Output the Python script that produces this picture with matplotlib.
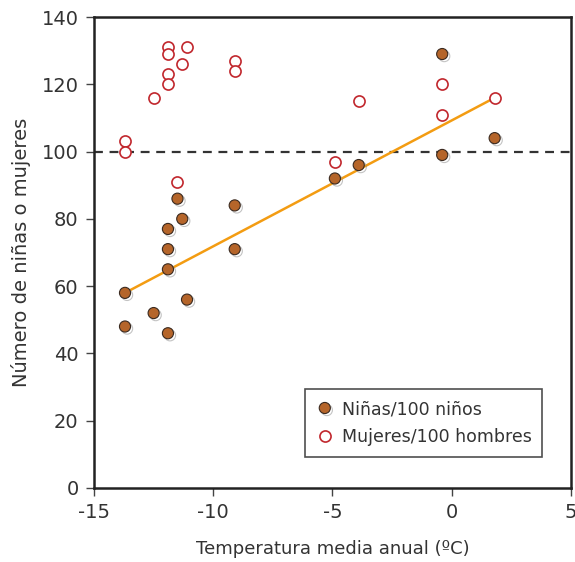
import matplotlib.pyplot as plt
import matplotlib.patheffects as pe

plt.rcParams["font.family"] = ["DejaVu Sans"]
plt.rcParams["axes.unicode_minus"] = False

# Niñas / 100 niños
girls_x = [-13.7, -13.7, -12.5, -11.9, -11.9, -11.9, -11.9, -11.5, -11.3, -11.1,
           -9.1, -9.1, -4.9, -3.9, -0.4, -0.4, 1.8]
girls_y = [58, 48, 52, 46, 65, 71, 77, 86, 80, 56,
           84, 71, 92, 96, 99, 129, 104]

# Mujeres / 100 hombres
women_x = [-13.7, -13.7, -12.5, -11.9, -11.9, -11.9, -11.9, -11.5, -11.3, -11.1,
           -9.1, -9.1, -4.9, -3.9, -0.4, -0.4, 1.8]
women_y = [103, 100, 116, 131, 129, 123, 120, 91, 126, 131,
           127, 124, 97, 115, 120, 111, 116]

trend_x = [-13.7, 1.8]
trend_y = [58, 116]

fig = plt.figure(figsize=(5.75, 5.62), dpi=100)
ax = fig.add_axes([0.1635, 0.1317, 0.8295, 0.838])

ax.axhline(100, color='#333333', linestyle=(0, (4, 3)), linewidth=1.6, zorder=1)
ax.plot(trend_x, trend_y, color='#f39c12', linewidth=1.8, zorder=2)

shadow = [pe.SimpleLineShadow(offset=(1.5, -1.5), shadow_color='#888888', alpha=0.5), pe.Normal()]
ax.plot(girls_x, girls_y, 'o', markersize=8, markerfacecolor='#b5652a',
        markeredgecolor='#3a2a20', markeredgewidth=0.8, linestyle='none',
        label='Niñas/100 niños', zorder=4, path_effects=shadow)
ax.plot(women_x, women_y, 'o', markersize=8, markerfacecolor='white',
        markeredgecolor='#c1272d', markeredgewidth=1.2, linestyle='none',
        label='Mujeres/100 hombres', zorder=3)

ax.set_xlim(-15, 5)
ax.set_ylim(0, 140)
ax.set_xticks([-15, -10, -5, 0, 5])
ax.set_yticks(range(0, 141, 20))
ax.tick_params(direction='out', length=6, width=1.0, labelsize=14,
               color='#444444', labelcolor='#333333', pad=5)
for s in ax.spines.values():
    s.set_linewidth(1.8)
    s.set_color('#222222')

ax.set_xlabel('Temperatura media anual (ºC)', fontsize=13, labelpad=13, color='#333333')
ax.set_ylabel('Número de niñas o mujeres', fontsize=14, labelpad=8, color='#333333')

leg = ax.legend(loc='lower left', bbox_to_anchor=(0.442, 0.066, 0.497, 0.153),
                mode='expand', fontsize=12.5, frameon=True, fancybox=False,
                edgecolor='#222222', handletextpad=0.5, borderpad=0.65,
                borderaxespad=0, labelspacing=0.55, handlelength=1.0)
leg.get_frame().set_linewidth(1.2)
for t in leg.get_texts():
    t.set_color('#333333')

plt.savefig('out.png', dpi=100)
